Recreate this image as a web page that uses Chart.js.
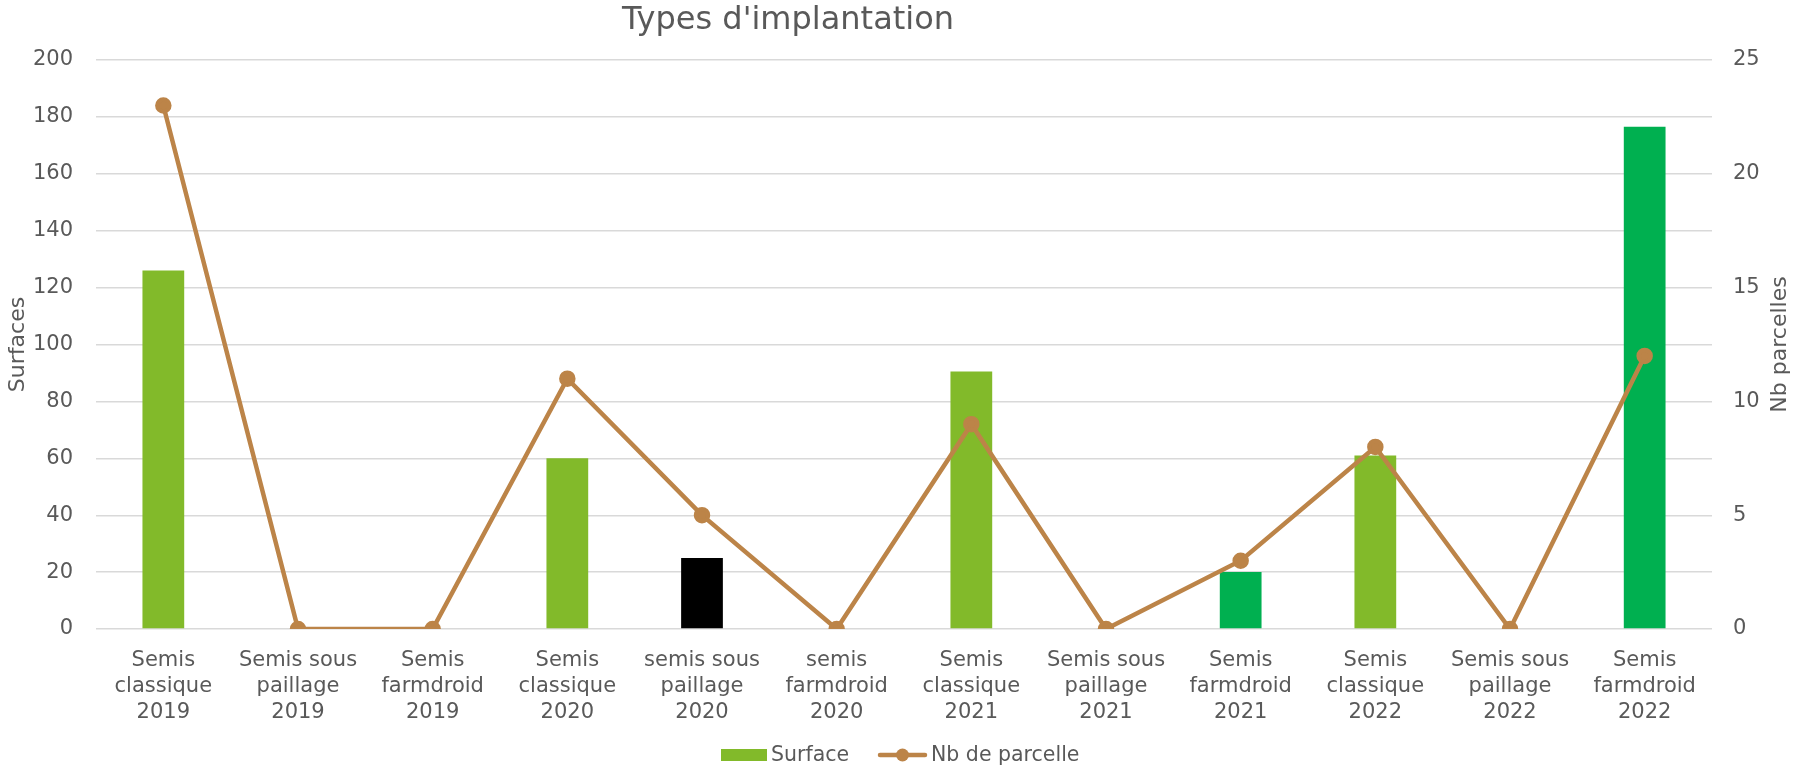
<!DOCTYPE html>
<html>
<head>
<meta charset="utf-8">
<script src="https://cdn.jsdelivr.net/npm/chart.js@4/dist/chart.umd.min.js"></script>
<style>
  html, body { margin: 0; padding: 0; background: #fff; overflow: hidden; }
  #wrap { width: 1798px; height: 769px; }
</style>
</head>
<body>
<div id="wrap"><canvas id="chart"></canvas></div>
<script>
// data
const categories = [
  ["Semis", "classique", "2019"],
  ["Semis sous", "paillage", "2019"],
  ["Semis", "farmdroid", "2019"],
  ["Semis", "classique", "2020"],
  ["semis sous", "paillage", "2020"],
  ["semis", "farmdroid", "2020"],
  ["Semis", "classique", "2021"],
  ["Semis sous", "paillage", "2021"],
  ["Semis", "farmdroid", "2021"],
  ["Semis", "classique", "2022"],
  ["Semis sous", "paillage", "2022"],
  ["Semis", "farmdroid", "2022"]
];
const surfaces = [126, 0, 0, 60, 25, 0, 90.5, 0, 20, 61, 0, 176.5];
const nbParcelles = [23, 0, 0, 11, 5, 0, 9, 0, 3, 8, 0, 12];
const barColors = ["#82BA2A", "#82BA2A", "#82BA2A", "#82BA2A", "#000000", "#82BA2A",
                   "#82BA2A", "#82BA2A", "#00B050", "#82BA2A", "#82BA2A", "#00B050"];
const titleText = "Types d'implantation";
const rightTitle = "Nb parcelles";
const legendNames = ["Surface", "Nb de parcelle"];

const textColor = "#595959";
const gridColor = "#D9D9D9";
const barGreen = "#82BA2A";
const lineColor = "#BC8448";
const fontFamily = "'DejaVu Sans', Verdana, sans-serif";
Chart.defaults.font.family = fontFamily;
Chart.defaults.color = textColor;

// title (left of centre in the reference), upward right axis title and the legend
const extraText = {
  id: "extraText",
  afterDraw(chart) {
    const ctx = chart.ctx;
    const area = chart.chartArea;
    ctx.save();
    ctx.fillStyle = textColor;
    ctx.textAlign = "center";
    ctx.textBaseline = "middle";
    ctx.font = "32px " + fontFamily;
    ctx.fillText(titleText, 788, 21);

    // legend
    const ly = 755;
    ctx.font = "20.5px " + fontFamily;
    ctx.textAlign = "left";
    ctx.fillStyle = barGreen;
    ctx.fillRect(721, ly - 6, 46, 12);
    ctx.fillStyle = textColor;
    ctx.fillText(legendNames[0], 771, ly + 1);
    ctx.strokeStyle = lineColor;
    ctx.lineWidth = 4.5;
    ctx.lineCap = "round";
    ctx.beginPath(); ctx.moveTo(880, ly); ctx.lineTo(925, ly); ctx.stroke();
    ctx.fillStyle = lineColor;
    ctx.beginPath(); ctx.arc(902.5, ly, 6.5, 0, Math.PI * 2); ctx.fill();
    ctx.fillStyle = textColor;
    ctx.fillText(legendNames[1], 931, ly + 1);

    ctx.textAlign = "center";
    ctx.translate(1780, (area.top + area.bottom) / 2);
    ctx.rotate(-Math.PI / 2);
    ctx.font = "22px " + fontFamily;
    ctx.fillText(rightTitle, 0, 0);
    ctx.restore();
  }
};

new Chart(document.getElementById("chart"), {
  data: {
    labels: categories,
    datasets: [
      {
        type: "line",
        label: legendNames[1],
        data: nbParcelles,
        yAxisID: "y1",
        borderColor: lineColor,
        backgroundColor: lineColor,
        borderWidth: 4.5,
        pointRadius: 6,
        pointHoverRadius: 6,
        tension: 0,
        order: 0
      },
      {
        type: "bar",
        label: legendNames[0],
        data: surfaces,
        yAxisID: "y",
        backgroundColor: barColors,
        categoryPercentage: 1,
        barPercentage: 0.31,
        order: 1
      }
    ]
  },
  plugins: [extraText],
  options: {
    responsive: true,
    maintainAspectRatio: false,
    animation: false,
    layout: { padding: { left: 0, right: 0, top: 60, bottom: 40 } },
    plugins: {
      title: { display: false },
      legend: { display: false },
      tooltip: { enabled: false }
    },
    scales: {
      x: {
        grid: { display: false },
        border: { display: false },
        ticks: { color: textColor, font: { size: 21, lineHeight: 1.25 }, padding: 10, maxRotation: 0, autoSkip: false },
        afterFit(s) { s.height = 100; }
      },
      y: {
        position: "left",
        min: 0, max: 200,
        ticks: { stepSize: 20, color: textColor, font: { size: 21 }, padding: 23 },
        grid: { color: gridColor, lineWidth: 1.4, drawTicks: false },
        border: { display: false },
        title: { display: true, text: "Surfaces", color: textColor, font: { size: 22 }, padding: { top: 5, bottom: 0 } },
        afterFit(s) { s.width = 96; }
      },
      y1: {
        position: "right",
        min: 0, max: 25,
        ticks: { stepSize: 5, color: textColor, font: { size: 21 }, padding: 21 },
        grid: { display: false, drawTicks: false },
        border: { display: false },
        afterFit(s) { s.width = 86; }
      }
    }
  }
});
</script>
</body>
</html>
